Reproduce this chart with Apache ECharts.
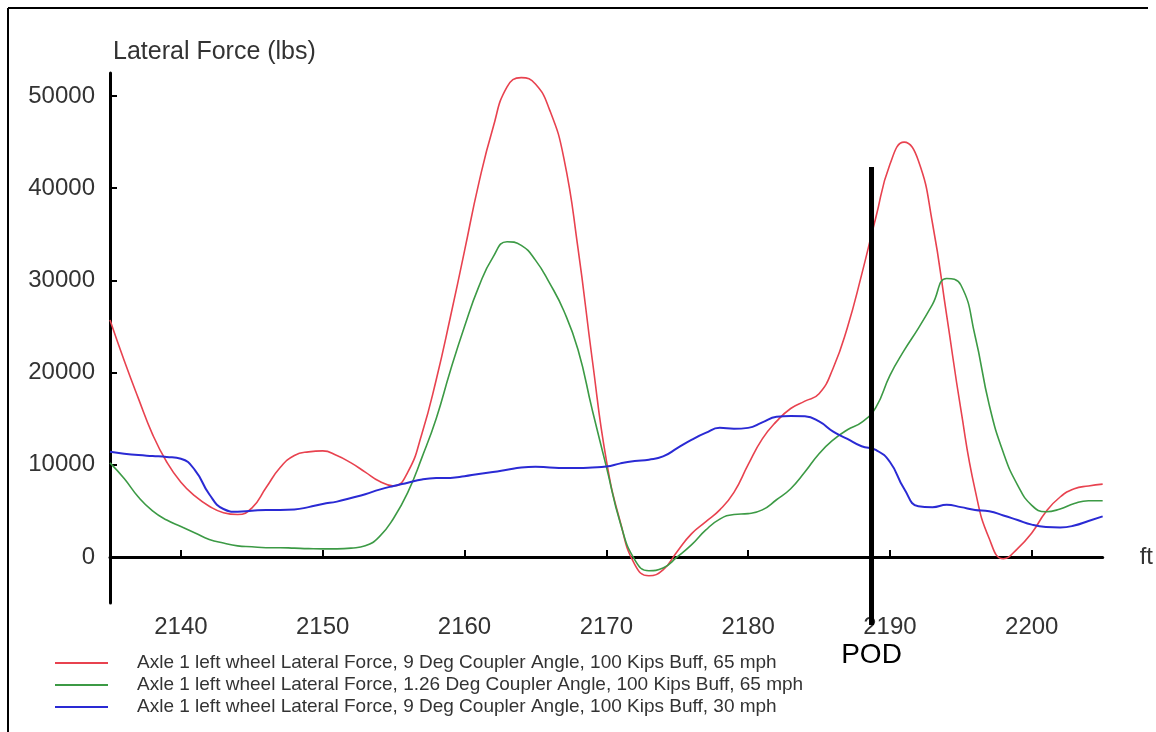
<!DOCTYPE html>
<html><head><meta charset="utf-8">
<script src="https://cdn.jsdelivr.net/npm/echarts@6/dist/echarts.min.js"></script>
<style>html,body{margin:0;padding:0;background:#fff}#c{width:1156px;height:732px}</style>
</head><body><div id="c"></div>
<script>
// Distance along track (ft)
const feet = [2135,2136,2137,2138,2139,2140,2141,2142,2143,2144,2145,2146,2147,2148,2149,2150,
  2151,2152,2153,2154,2155,2156,2157,2158,2159,2160,2161,2162,2163,2164,2165,2166,2167,2168,2169,2170,
  2171,2172,2173,2174,2175,2176,2177,2178,2179,2180,2181,2182,2183,2184,2185,2186,2187,2188,2189,2190,
  2191,2192,2193,2194,2195,2196,2197,2198,2199,2200,2201,2202,2203,2204,2205];

// 9 Deg, 65 mph (red)
const red = [25700,21300,17200,13300,10300,8100,6600,5500,4800,4600,5300,7500,9700,11000,11400,11500,
  11000,10200,9200,8200,7700,9200,13400,19200,26000,33200,40500,46500,51000,52000,51300,48500,43300,33500,21500,10500,
  3700,-800,-2050,-1400,600,2500,3800,5100,7000,10000,12800,14700,16100,16900,17700,20500,24900,30600,36800,42600,
  45000,43000,36200,26200,16000,7300,2000,-200,900,2600,4900,6500,7400,7700,7900];

// 1.26 Deg, 65 mph (green)
const green = [10200,8500,6500,5000,4000,3300,2600,1900,1500,1200,1100,1000,1000,950,900,870,
  870,950,1200,2200,4200,7000,10800,15000,20200,25000,29300,32500,34200,33800,32200,29700,26700,22500,16000,9800,
  3600,-300,-1500,-1200,0,1300,2900,4100,4600,4700,5100,6200,7400,9200,11200,12700,13800,14600,16200,19700,
  22400,24800,27400,30200,29500,24000,16500,11300,7800,5600,4900,5200,5800,6100,6100];

// 9 Deg, 30 mph (blue)
const blue = [11400,11200,11050,10950,10850,10650,9400,6800,5200,4900,5000,5100,5100,5150,5400,5750,
  6000,6400,6800,7300,7700,8050,8400,8550,8570,8750,9000,9200,9450,9700,9780,9700,9650,9650,9700,9800,
  10150,10400,10550,10900,11800,12700,13450,14000,13900,14000,14600,15200,15300,15250,14700,13600,12800,12000,11600,10300,
  7400,5500,5400,5650,5400,5100,4950,4500,4000,3500,3250,3200,3400,3900,4400];

const seriesNames = [
  'Axle 1 left wheel Lateral Force, 9 Deg Coupler Angle, 100 Kips Buff, 65 mph',
  'Axle 1 left wheel Lateral Force, 1.26 Deg Coupler Angle, 100 Kips Buff, 65 mph',
  'Axle 1 left wheel Lateral Force, 9 Deg Coupler Angle, 100 Kips Buff, 30 mph'
];
const xTicks = [2140,2150,2160,2170,2180,2190,2200];
const yTicks = [0,10000,20000,30000,40000,50000];
// POD marker: position (ft), top and bottom of the bar (lbs)
const pod = [2188.7, 42300, -7400];

const FONT = '"Liberation Sans", Arial, sans-serif';
const chart = echarts.init(document.getElementById('c'));
const pairs = ys => feet.map((x, i) => [x, ys[i]]);
const lineSeries = (name, ys, color, width) => ({
  type: 'line', name, data: pairs(ys), smooth: 0.5, symbol: 'none', showSymbol: false,
  lineStyle: { color, width }, itemStyle: { color }, z: 3
});
const plain = v => String(v);

chart.setOption({
  animation: false,
  textStyle: { fontFamily: FONT },
  grid: { left: 110, right: 53, top: 73, bottom: 129 },
  xAxis: {
    type: 'value', min: 2135, max: 2205,
    name: 'ft', nameLocation: 'end', nameGap: 37,
    nameTextStyle: { fontSize: 24, color: '#333', align: 'left', verticalAlign: 'middle', padding: [0, 0, 50, 0] },
    axisLine: { onZero: true, lineStyle: { color: '#000', width: 3 } },
    axisTick: { show: true, inside: true, length: 7, lineStyle: { color: '#000', width: 2 }, customValues: xTicks },
    axisLabel: { customValues: xTicks, fontSize: 24, color: '#333', margin: 12, formatter: plain },
    splitLine: { show: false }
  },
  yAxis: {
    type: 'value', min: -5000, max: 52500,
    name: 'Lateral Force (lbs)', nameLocation: 'end', nameGap: 21,
    nameTextStyle: { fontSize: 25, color: '#333', align: 'left', verticalAlign: 'middle', padding: [0, 0, 0, 3] },
    axisLine: { show: true, onZero: false, lineStyle: { color: '#000', width: 3 } },
    axisTick: { show: true, inside: true, length: 7, lineStyle: { color: '#000', width: 2 }, customValues: yTicks },
    axisLabel: { customValues: yTicks, fontSize: 24, color: '#333', margin: 15, formatter: plain },
    splitLine: { show: false }
  },
  legend: {
    data: seriesNames, orient: 'vertical', left: 55, top: 653, padding: 0,
    icon: 'rect', itemWidth: 53, itemHeight: 2, itemGap: 2,
    textStyle: { fontSize: 19, color: '#333', padding: [0, 0, 0, 24], lineHeight: 20 }
  },
  graphic: [
    { type: 'line', shape: { x1: 8, y1: 8, x2: 1148, y2: 8 }, style: { stroke: '#000', lineWidth: 2 } },
    { type: 'line', shape: { x1: 8, y1: 8, x2: 8, y2: 732 }, style: { stroke: '#000', lineWidth: 2 } }
  ],
  series: [
    lineSeries(seriesNames[0], red, '#e8424f', 1.6),
    lineSeries(seriesNames[1], green, '#3c9a45', 1.6),
    lineSeries(seriesNames[2], blue, '#2a2ad4', 2),
    {
      type: 'custom', name: 'POD', data: [pod], encode: { x: 0, y: [1, 2] }, clip: false, silent: true, z: 5,
      renderItem: (params, api) => {
        const a = api.coord([api.value(0), api.value(1)]);
        const b = api.coord([api.value(0), api.value(2)]);
        return { type: 'group', children: [
          { type: 'line', shape: { x1: a[0], y1: a[1], x2: b[0], y2: b[1] }, style: { stroke: '#000', lineWidth: 5 } },
          { type: 'text', style: { text: 'POD', x: b[0], y: b[1] + 30, align: 'center', verticalAlign: 'middle', fontSize: 28, fill: '#000', fontFamily: FONT } }
        ] };
      }
    }
  ]
});
</script></body></html>
